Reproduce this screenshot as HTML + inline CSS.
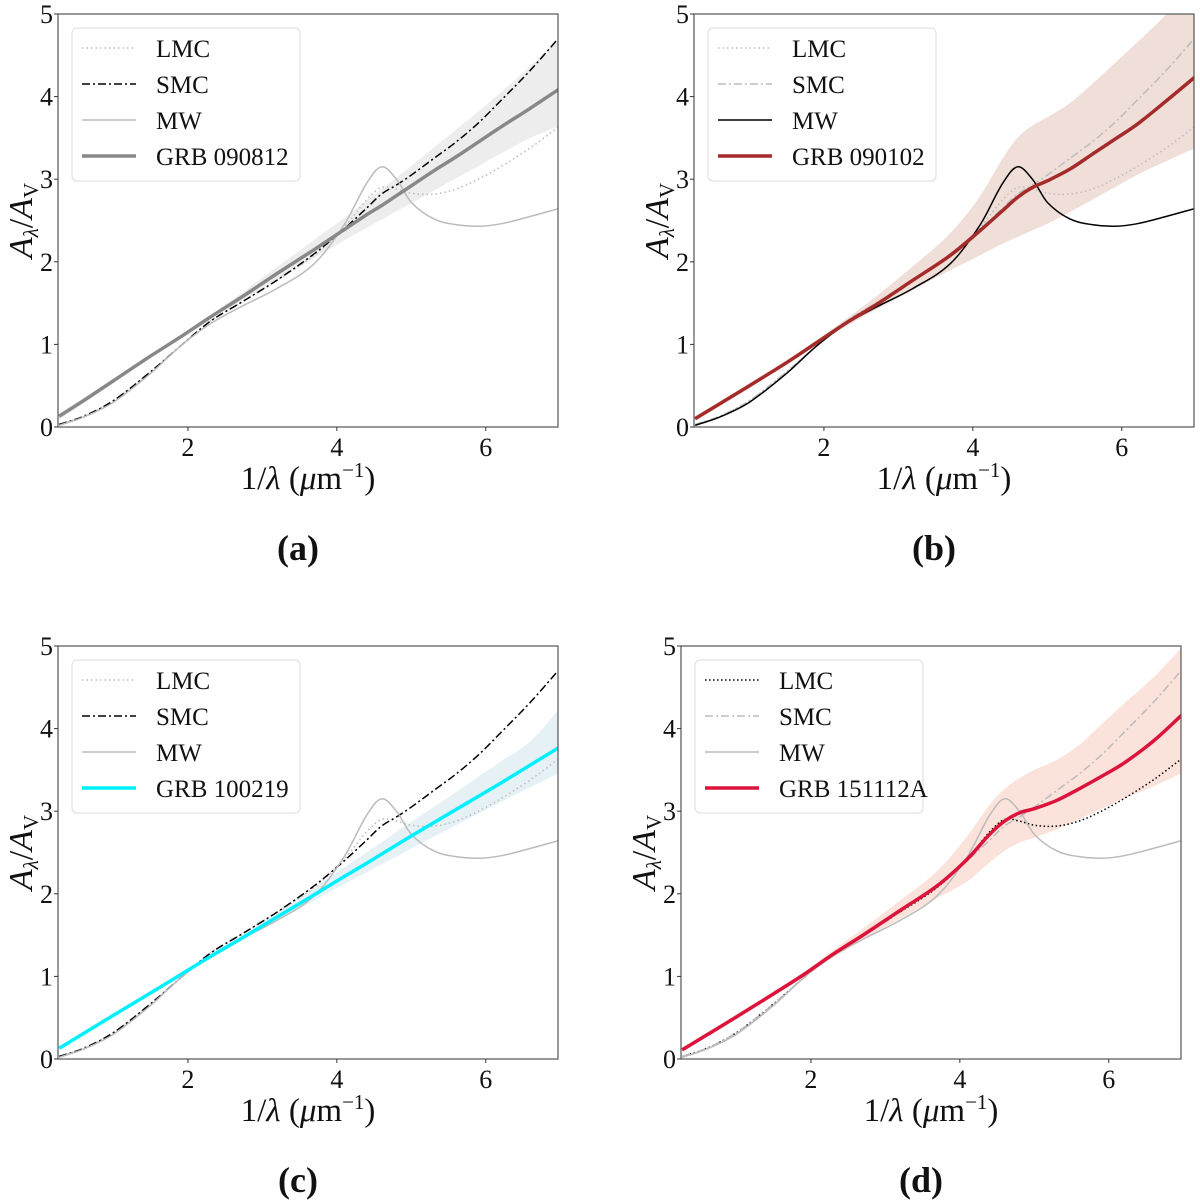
<!DOCTYPE html>
<html><head><meta charset="utf-8"><style>
body{margin:0;background:#fff;width:1200px;height:1200px;overflow:hidden}
svg{display:block}
text{font-family:"Liberation Serif",serif;fill:#111}
</style></head><body>
<svg id="fig" width="1200" height="1200"></svg>
<script>
// x grid (1/lambda)
const xs   = [0.27,0.6,1.0,1.5,1.9,2.3,2.7,3.2,3.7,4.1,4.4,4.6,4.8,5.0,5.3,5.6,5.9,6.2,6.6,7.0];
const mwY  = [0.02,0.12,0.30,0.65,0.98,1.25,1.45,1.68,1.98,2.45,2.95,3.15,3.0,2.72,2.52,2.45,2.43,2.46,2.55,2.65];
const smcY = [0.03,0.13,0.32,0.67,0.98,1.28,1.50,1.78,2.10,2.40,2.65,2.82,2.93,3.05,3.25,3.45,3.68,3.95,4.32,4.73];
const lmcY = [0.03,0.13,0.32,0.67,0.98,1.28,1.50,1.78,2.08,2.42,2.75,2.90,2.88,2.83,2.82,2.88,3.00,3.15,3.38,3.65];
// GRB fits: value, lower, upper
const g090812  = [0.13,0.32,0.56,0.86,1.09,1.33,1.56,1.86,2.15,2.39,2.57,2.68,2.80,2.92,3.10,3.27,3.45,3.63,3.86,4.10];
const g090812Lo= [0.09,0.29,0.54,0.85,1.08,1.31,1.52,1.79,2.05,2.26,2.41,2.51,2.61,2.71,2.86,3.01,3.16,3.31,3.50,3.65];
const g090812Hi= [0.17,0.35,0.58,0.87,1.10,1.35,1.61,1.94,2.27,2.53,2.74,2.88,3.02,3.16,3.38,3.60,3.82,4.05,4.37,4.72];
const g090102  = [0.10,0.28,0.50,0.78,1.02,1.26,1.48,1.78,2.08,2.38,2.62,2.78,2.90,2.98,3.12,3.30,3.48,3.66,3.95,4.25];
const g090102Lo= [0.08,0.26,0.48,0.76,1.00,1.22,1.42,1.66,1.90,2.08,2.22,2.30,2.38,2.46,2.60,2.75,2.90,3.05,3.22,3.38];
const g090102Hi= [0.13,0.31,0.53,0.81,1.05,1.31,1.58,1.95,2.35,2.80,3.25,3.50,3.65,3.75,3.92,4.15,4.40,4.65,5.00,5.40];
const g100219  = [0.13,0.31,0.53,0.80,1.02,1.24,1.45,1.72,1.99,2.21,2.37,2.48,2.59,2.70,2.86,3.02,3.18,3.34,3.56,3.78];
const g100219Lo= [0.12,0.30,0.52,0.79,1.01,1.22,1.42,1.67,1.92,2.12,2.26,2.36,2.45,2.55,2.69,2.83,2.97,3.11,3.29,3.47];
const g100219Hi= [0.14,0.32,0.54,0.81,1.03,1.26,1.48,1.78,2.08,2.32,2.50,2.62,2.75,2.87,3.05,3.23,3.42,3.60,3.85,4.25];
const g151112  = [0.11,0.29,0.51,0.79,1.02,1.27,1.50,1.80,2.10,2.42,2.72,2.88,2.98,3.03,3.13,3.27,3.42,3.58,3.85,4.18];
const g151112Lo= [0.09,0.27,0.49,0.77,1.00,1.23,1.44,1.70,1.95,2.15,2.38,2.52,2.62,2.68,2.78,2.90,3.03,3.15,3.30,3.47];
const g151112Hi= [0.14,0.32,0.54,0.82,1.05,1.32,1.58,1.92,2.28,2.70,3.08,3.27,3.40,3.50,3.62,3.80,4.05,4.30,4.62,5.00];
const xTicks=[2,4,6], yTicks=[0,1,2,3,4,5];

const NS="http://www.w3.org/2000/svg", fig=document.getElementById('fig');
function mk(tag,at,parent){const e=document.createElementNS(NS,tag);for(const k in at)e.setAttribute(k,at[k]);(parent||fig).appendChild(e);return e;}
function smooth(pts){let d="M"+pts[0][0]+","+pts[0][1];for(let i=0;i<pts.length-1;i++){const p0=pts[i-1]||pts[i],p1=pts[i],p2=pts[i+1],p3=pts[i+2]||p2;
 const h=p2[0]-p1[0];
 const m1=(p2[1]-p0[1])/((p2[0]-p0[0])||1), m2=(p3[1]-p1[1])/((p3[0]-p1[0])||1);
 d+=" C"+(p1[0]+h/3)+","+(p1[1]+m1*h/3)+" "+(p2[0]-h/3)+","+(p2[1]-m2*h/3)+" "+p2[0]+","+p2[1];}return d;}

const panels=[
 {id:'a',L:58,T:14,lab:'GRB 090812',col:'#888888',band:'#ededed',v:g090812,lo:g090812Lo,hi:g090812Hi,
  lmc:{c:'#bbb',da:'1.5,3'},smc:{c:'#000',da:'8,3,2,3'},mw:{c:'#bbb',da:''}},
 {id:'b',L:694,T:14,lab:'GRB 090102',col:'#a52a2a',band:'#f0dfd8',v:g090102,lo:g090102Lo,hi:g090102Hi,
  lmc:{c:'#bbb',da:'1.5,3'},smc:{c:'#bbb',da:'8,3,2,3'},mw:{c:'#000',da:''}},
 {id:'c',L:58,T:646,lab:'GRB 100219',col:'#00f0ff',band:'#e6f1f6',v:g100219,lo:g100219Lo,hi:g100219Hi,
  lmc:{c:'#bbb',da:'1.5,3'},smc:{c:'#000',da:'8,3,2,3'},mw:{c:'#bbb',da:''}},
 {id:'d',L:681,T:646,lab:'GRB 151112A',col:'#dc143c',band:'#fbe2da',v:g151112,lo:g151112Lo,hi:g151112Hi,
  lmc:{c:'#000',da:'1.5,2.5'},smc:{c:'#bbb',da:'8,3,2,3'},mw:{c:'#bbb',da:''}}];

panels.forEach(p=>{
 const W=500,H=413,x0=0.255,x1=6.97;
 const X=v=>p.L+(v-x0)/(x1-x0)*W, Y=v=>p.T+H-v/5*H;
 const g=mk('g',{});  
 const cid='clip'+p.id; const cp=mk('clipPath',{id:cid},g); mk('rect',{x:p.L,y:p.T,width:W,height:H},cp);
 const pg=mk('g',{'clip-path':'url(#'+cid+')'},g);
 const hi=xs.map((x,i)=>[X(x),Y(p.hi[i])]), lo=xs.map((x,i)=>[X(x),Y(p.lo[i])]).reverse();
 const band=mk('path',{d:smooth(hi)+" L"+smooth(lo).slice(1)+" Z",fill:p.band,stroke:'none'},pg);
 
 
 [['lmc',lmcY,'lmc-curve'],['smc',smcY,'smc-curve'],['mw',mwY,'mw-curve']].forEach(([k,arr,nm])=>{
  const e=mk('path',{d:smooth(xs.map((x,i)=>[X(x),Y(arr[i])])),fill:'none',stroke:p[k].c,'stroke-width':1.5,'stroke-dasharray':p[k].da},pg);
  
  
 });
 const fl=mk('path',{d:smooth(xs.map((x,i)=>[X(x),Y(p.v[i])])),fill:'none',stroke:p.col,'stroke-width':3.5},pg);
 
 
 mk('rect',{x:p.L,y:p.T,width:W,height:H,fill:'none',stroke:'#555','stroke-width':1.2},g);
 xTicks.forEach(t=>{mk('line',{x1:X(t),x2:X(t),y1:p.T+H,y2:p.T+H+4,stroke:'#333'},g);
  const tx=mk('text',{x:X(t),y:p.T+H+29,'text-anchor':'middle','font-size':26},g);tx.textContent=t;
  });
 yTicks.forEach(t=>{mk('line',{x1:p.L-4,x2:p.L,y1:Y(t),y2:Y(t),stroke:'#333'},g);
  const tx=mk('text',{x:p.L-5,y:Y(t)+9,'text-anchor':'end','font-size':26},g);tx.textContent=t;
  });
 const xl=mk('text',{x:p.L+W/2,y:p.T+H+62,'text-anchor':'middle','font-size':33},g);
 xl.innerHTML='1/<tspan font-style="italic">λ</tspan> (<tspan font-style="italic">μ</tspan>m<tspan dy="-12" font-size="21">−1</tspan><tspan dy="12">)</tspan>';
 
 const yl=mk('text',{transform:'translate('+(p.L-26)+','+(p.T+H/2)+') rotate(-90)','text-anchor':'middle','font-size':34},g);
 yl.innerHTML='<tspan font-style="italic">A</tspan><tspan font-size="21" dy="6" font-style="italic">λ</tspan><tspan dy="-6">/</tspan><tspan font-style="italic">A</tspan><tspan font-size="21" dy="6">V</tspan>';
 
 const cap=mk('text',{x:p.L+W/2-10,y:p.T+H+133,'text-anchor':'middle','font-size':36,'font-weight':'bold'},g);cap.textContent='('+p.id+')';
 
 // legend
 const lg=mk('g',{},g);
 const lx=p.L+14, ly=p.T+14, lw=228;
 mk('rect',{x:lx,y:ly,width:lw,height:153,rx:5,fill:'#fff','fill-opacity':0.85,stroke:'#ddd'},lg);
 const ent=[['LMC',p.lmc.c,p.lmc.da,1.5],['SMC',p.smc.c,p.smc.da,1.5],['MW',p.mw.c,p.mw.da,1.5],[p.lab,p.col,'',3.5]];
 ent.forEach((e,i)=>{const yy=ly+20+i*36;
  const eg=mk('g',{},lg);
  mk('line',{x1:lx+10,x2:lx+64,y1:yy,y2:yy,stroke:e[1],'stroke-width':e[3],'stroke-dasharray':e[2]},eg);
  const t=mk('text',{x:lx+84,y:yy+9,'font-size':25},eg);t.textContent=e[0];});
});
</script>
</body></html>
